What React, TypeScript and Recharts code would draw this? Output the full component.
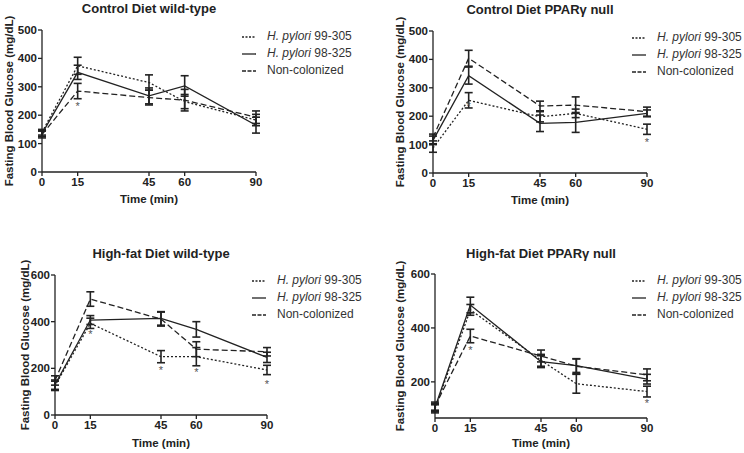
import React from 'react';
import { LineChart, Line, XAxis, YAxis, ErrorBar, Legend, Label } from 'recharts';

const FONT = 'Arial, "Liberation Sans", Helvetica, sans-serif';
const INK = '#222';

// shared
const times = [0, 15, 45, 60, 90];
const timeTicks = [0, 15, 45, 60, 90];
const strainIds = ['99-305', '98-325'];
const seriesNames = ['H. pylori 99-305', 'H. pylori 98-325', 'Non-colonized'];
const dashes = ['2 2', undefined, '6 3'];
const keyDashes = ['2 1.5', undefined, '4 1.5'];

// Control Diet wild-type
const cwt305 = [140, 374, 315, 248, 183];
const cwt305Err = [10, 30, 27, 25, 20];
const cwt325 = [135, 351, 268, 303, 165];
const cwt325Err = [10, 25, 28, 36, 28];
const cwtNon = [132, 285, 262, 253, 193];
const cwtNonErr = [12, 27, 26, 38, 22];
const cwtStars = [null, 240, null, null, null];

// Control Diet PPARγ null
const cnu305 = [88, 256, 198, 210, 154];
const cnu305Err = [15, 27, 18, 15, 18];
const cnu325 = [115, 343, 175, 178, 210];
const cnu325Err = [15, 30, 29, 35, 12];
const cnuNon = [125, 404, 236, 239, 216];
const cnuNonErr = [12, 28, 17, 29, 16];
const cnuStars = [null, 242, null, null, 116];

// High-fat Diet wild-type
const hwt305 = [125, 393, 250, 250, 193];
const hwt305Err = [20, 22, 26, 39, 20];
const hwt325 = [130, 407, 414, 367, 247];
const hwt325Err = [20, 19, 29, 33, 22];
const hwtNon = [148, 497, 411, 282, 271];
const hwtNonErr = [20, 31, 30, 32, 18];
const hwtStars = [null, 355, 200, 192, 140];

// High-fat Diet PPARγ null
const hnu305 = [100, 467, 280, 193, 164];
const hnu305Err = [15, 20, 22, 35, 20];
const hnu325 = [105, 485, 275, 260, 210];
const hnu325Err = [15, 29, 22, 25, 18];
const hnuNon = [110, 370, 296, 258, 226];
const hnuNonErr = [15, 25, 22, 28, 22];
const hnuStars = [null, 325, null, null, 130];

const buildRows = (
  s305: number[], e305: number[],
  s325: number[], e325: number[],
  non: number[], eNon: number[],
  stars: (number | null)[],
) =>
  times.map((t, i) => ({
    t,
    s305: s305[i], e305: e305[i],
    s325: s325[i], e325: e325[i],
    non: non[i], eNon: eNon[i],
    star: stars[i],
  }));

function KeyBox() {
  return (
    <div style={{ fontFamily: FONT, fontSize: 12, color: '#333', lineHeight: '17px' }}>
      {seriesNames.map((name, i) => (
        <div key={name} style={{ display: 'flex', alignItems: 'center', height: 17, whiteSpace: 'nowrap' }}>
          <svg width={14} height={4} style={{ marginRight: 11 }}>
            <line x1={0} y1={2} x2={14} y2={2} stroke={INK} strokeWidth={1.3} strokeDasharray={keyDashes[i]} />
          </svg>
          <span>
            {i < 2 ? (
              <>
                <i>H. pylori</i> {strainIds[i]}
              </>
            ) : (
              name
            )}
          </span>
        </div>
      ))}
    </div>
  );
}

const renderStar = (props: any) => {
  const { cx, cy, index, payload } = props;
  if (payload?.star == null || cy == null) return <g key={`s${index}`} />;
  return (
    <text key={`s${index}`} x={cx} y={cy + 6} textAnchor="middle" fontSize={11} fill="#555" fontFamily={FONT}>
      *
    </text>
  );
};

interface PanelProps {
  left: number;
  top: number;
  height: number;
  title: string;
  rows: ReturnType<typeof buildRows>;
  yDomain: [number, number];
  yTicks: number[];
  plotLeft: number;
  plotRight: number;
  plotTop: number;
  plotBottom: number;
  yLabelX: number;
  xLabelOffset: number;
  titleY: number;
  keyLeft: number;
  keyTop: number;
}

function Panel(p: PanelProps) {
  const W = 372;
  const xAxisH = 34;
  const tickStyle = { fill: INK, fontSize: 11.5, fontWeight: 'bold', fontFamily: FONT };
  const axisStroke = { stroke: INK, strokeWidth: 1.3 };
  const center = (p.plotLeft + p.plotRight) / 2;
  return (
    <div style={{ position: 'absolute', left: p.left, top: p.top, width: W, height: p.height }}>
      <div
        style={{
          position: 'absolute',
          left: center - 150,
          width: 300,
          top: p.titleY - 8,
          textAlign: 'center',
          fontFamily: FONT,
          fontWeight: 'bold',
          fontSize: 13,
          lineHeight: '16px',
          color: INK,
          whiteSpace: 'nowrap',
        }}
      >
        {p.title}
      </div>
      <LineChart
        width={W}
        height={p.height}
        data={p.rows}
        margin={{ left: 0, right: W - p.plotRight, top: p.plotTop, bottom: p.height - p.plotBottom - xAxisH }}
      >
        <XAxis
          dataKey="t"
          type="number"
          domain={[0, 90]}
          ticks={timeTicks}
          height={xAxisH}
          tickSize={4}
          tickMargin={2}
          tick={tickStyle}
          axisLine={axisStroke}
          tickLine={axisStroke}
        >
          <Label
            value="Time (min)"
            position="insideBottom"
            offset={p.xLabelOffset}
            style={{ fill: INK, fontSize: 11.5, fontWeight: 'bold', fontFamily: FONT }}
          />
        </XAxis>
        <YAxis
          width={p.plotLeft}
          domain={p.yDomain}
          ticks={p.yTicks}
          tickSize={4}
          tickMargin={1}
          tick={tickStyle}
          axisLine={axisStroke}
          tickLine={axisStroke}
          interval={0}
        >
          <Label
            value="Fasting Blood Glucose (mg/dL)"
            angle={-90}
            position="insideLeft"
            offset={p.yLabelX}
            style={{ textAnchor: 'middle', fill: INK, fontSize: 11.5, fontWeight: 'bold', fontFamily: FONT }}
          />
        </YAxis>
        <Legend
          layout="vertical"
          align="center"
          verticalAlign="middle"
          wrapperStyle={{ left: p.keyLeft, top: p.keyTop, width: 140 }}
          content={() => <KeyBox />}
        />
        <Line
          dataKey="s305"
          name={seriesNames[0]}
          stroke={INK}
          strokeWidth={1.3}
          strokeDasharray={dashes[0]}
          dot={false}
          activeDot={false}
          isAnimationActive={false}
        >
          <ErrorBar dataKey="e305" direction="y" width={4} stroke={INK} strokeWidth={1.6} />
        </Line>
        <Line
          dataKey="s325"
          name={seriesNames[1]}
          stroke={INK}
          strokeWidth={1.3}
          dot={false}
          activeDot={false}
          isAnimationActive={false}
        >
          <ErrorBar dataKey="e325" direction="y" width={4} stroke={INK} strokeWidth={1.6} />
        </Line>
        <Line
          dataKey="non"
          name={seriesNames[2]}
          stroke={INK}
          strokeWidth={1.3}
          strokeDasharray={dashes[2]}
          dot={false}
          activeDot={false}
          isAnimationActive={false}
        >
          <ErrorBar dataKey="eNon" direction="y" width={4} stroke={INK} strokeWidth={1.6} />
        </Line>
        <Line
          dataKey="star"
          stroke="none"
          legendType="none"
          dot={renderStar}
          activeDot={false}
          isAnimationActive={false}
        />
      </LineChart>
    </div>
  );
}

export default function App() {
  return (
    <div style={{ position: 'absolute', left: 0, top: 0, width: 744, height: 453, background: '#fff', overflow: 'hidden' }}>
      <Panel
        left={0}
        top={0}
        height={226}
        title="Control Diet wild-type"
        rows={buildRows(cwt305, cwt305Err, cwt325, cwt325Err, cwtNon, cwtNonErr, cwtStars)}
        yDomain={[0, 500]}
        yTicks={[0, 100, 200, 300, 400, 500]}
        plotLeft={42}
        plotRight={256}
        plotTop={30}
        plotBottom={172}
        yLabelX={9}
        xLabelOffset={3}
        titleY={9}
        keyLeft={242}
        keyTop={28}
      />
      <Panel
        left={372}
        top={0}
        height={226}
        title="Control Diet PPARγ null"
        rows={buildRows(cnu305, cnu305Err, cnu325, cnu325Err, cnuNon, cnuNonErr, cnuStars)}
        yDomain={[0, 500]}
        yTicks={[0, 100, 200, 300, 400, 500]}
        plotLeft={61}
        plotRight={275}
        plotTop={31}
        plotBottom={173}
        yLabelX={28}
        xLabelOffset={3}
        titleY={10}
        keyLeft={260}
        keyTop={29}
      />
      <Panel
        left={0}
        top={226}
        height={227}
        title="High-fat Diet wild-type"
        rows={buildRows(hwt305, hwt305Err, hwt325, hwt325Err, hwtNon, hwtNonErr, hwtStars)}
        yDomain={[0, 600]}
        yTicks={[0, 200, 400, 600]}
        plotLeft={55}
        plotRight={267}
        plotTop={49}
        plotBottom={189}
        yLabelX={25}
        xLabelOffset={2}
        titleY={28}
        keyLeft={252}
        keyTop={46}
      />
      <Panel
        left={372}
        top={226}
        height={227}
        title="High-fat Diet PPARγ null"
        rows={buildRows(hnu305, hnu305Err, hnu325, hnu325Err, hnuNon, hnuNonErr, hnuStars)}
        yDomain={[66, 600]}
        yTicks={[200, 400, 600]}
        plotLeft={63}
        plotRight={275}
        plotTop={48}
        plotBottom={192}
        yLabelX={28}
        xLabelOffset={5}
        titleY={28}
        keyLeft={260}
        keyTop={46}
      />
    </div>
  );
}
